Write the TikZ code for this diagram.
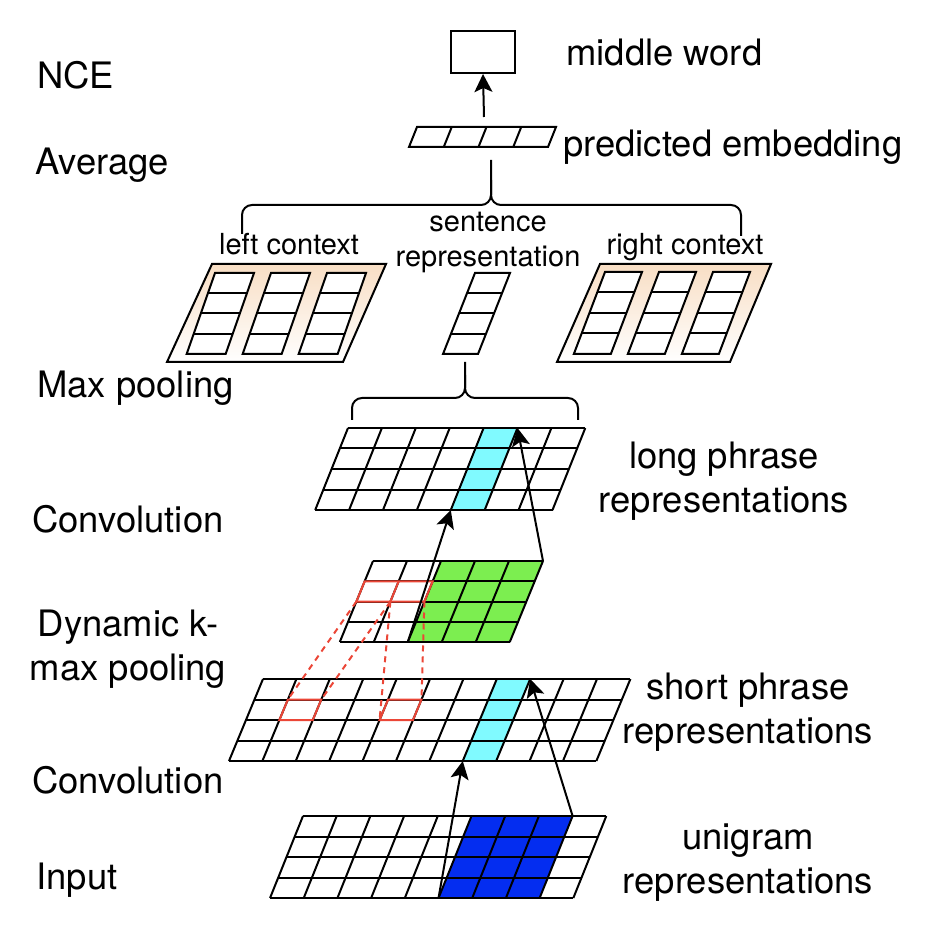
\documentclass[tikz,border=0pt]{standalone}
\usepackage{fontspec}
\setmainfont{TeX Gyre Heros}
\usetikzlibrary{arrows.meta}

\definecolor{ctxpeach}{RGB}{248,222,196}
\definecolor{inblue}{RGB}{4,45,240}
\definecolor{kgreen}{RGB}{124,238,80}
\definecolor{phcyan}{RGB}{128,250,255}
\definecolor{selred}{RGB}{235,70,55}

\tikzset{
	cell/.style={line width=1pt, line join=miter},
	lbl/.style={inner sep=0pt, font=\fontsize{18.2}{22}\selectfont},
	sml/.style={inner sep=0pt, font=\fontsize{14.5}{17.5}\selectfont},
	flow/.style={line width=1pt, -{Stealth[length=9pt,width=9pt,inset=2pt]}},
	brace/.style={line width=1pt, rounded corners=5pt},
	redcell/.style={selred, line width=1pt},
	pool/.style={selred, line width=1pt, dash pattern=on 3pt off 2.5pt}
}

\begin{document}
\begin{tikzpicture}[x=0.5pt,y=-0.5pt]
	\useasboundingbox (0,0) rectangle (938,936);
	%\draw[help lines] (0,0) grid (938,936);
	% layer names
	\node[lbl,anchor=base west] (nce) at (37,89) {NCE};
	\node[lbl,anchor=base west] (avg) at (35,175) {Average};
	\node[lbl,anchor=base west] (maxp) at (37,398) {Max pooling};
	\node[lbl,anchor=base west] (convtop) at (32,532) {Convolution};
	\node[lbl,align=center,anchor=base] (kmax) at (128,680) {Dynamic k-\\max pooling};
	\node[lbl,anchor=base west] (convlow) at (32,793) {Convolution};
	\node[lbl,anchor=base west] (inp) at (36,889) {Input};
	% right labels
	\node[lbl,anchor=base west] (mw) at (566,66) {middle word};
	\node[lbl,anchor=base west] (pe) at (563,157) {predicted embedding};
	\node[lbl,align=center,anchor=base] (lp) at (724,512) {long phrase\\representations};
	\node[lbl,align=center,anchor=base] (sp) at (748,743) {short phrase\\representations};
	\node[lbl,align=center,anchor=base] (ug) at (748,893) {unigram\\representations};
	\node[sml,anchor=base] (lc) at (289,255) {left context};
	\node[sml,anchor=base] (rc) at (685,255) {right context};
	\node[sml,align=center,anchor=base] (sr) at (488,267) {sentence\\representation};

	% middle word
	\node[draw,line width=1pt,minimum width=32pt,minimum height=21pt,inner sep=0pt] (word) at (483,52) {};
	\coordinate (pe-top) at (484,117);
	\draw[flow] (pe-top) -- (word.south);

	% predicted embedding
	\begin{scope}[shift={(417,127)},xslant=0.4]
		\foreach \i in {1,2,3} \draw[cell] (\i*34.75,0) -- (\i*34.75,20);
		\draw[cell] (0,0) rectangle (139,20);
	\end{scope}
	\draw[brace] (242,234) |- (491,205) -- (491,160);
	\draw[brace] (741,236) |- (491,205) -- (491,180);

	% left context
	\path[draw,cell,top color=ctxpeach,bottom color=white] (212,264) -- (386,264) -- (343,362) -- (167,362) -- cycle;
	\begin{scope}[shift={(215,273)},xslant=0.35]
		\foreach \k in {0,56,112} {
			\draw[cell,fill=white] (\k,0) rectangle (\k+39,81);
			\foreach \j in {1,2,3} \draw[cell] (\k,\j*20.25) -- (\k+39,\j*20.25);
		}
	\end{scope}
	% right context
	\path[draw,cell,top color=ctxpeach,bottom color=white] (600,264) -- (771,264) -- (730,362) -- (557,362) -- cycle;
	\begin{scope}[shift={(605,272)},xslant=0.38]
		\foreach \k in {0,54,108} {
			\draw[cell,fill=white] (\k,0) rectangle (\k+37,82);
			\foreach \j in {1,2,3} \draw[cell] (\k,\j*20.5) -- (\k+37,\j*20.5);
		}
	\end{scope}
	% sentence representation
	\begin{scope}[shift={(475,273)},xslant=0.395]
		\draw[cell] (0,0) rectangle (35,81);
		\foreach \j in {1,2,3} \draw[cell] (0,\j*20.25) -- (35,\j*20.25);
	\end{scope}
	\draw[brace] (352,420) |- (465,398) -- (465,362);
	\draw[brace] (578,420) |- (465,398) -- (465,375);

	% long phrase representations
	\begin{scope}[shift={(348,428)},xslant=0.4]
		\fill[phcyan] (4*33.9,0) rectangle (5*33.9,82);
		\foreach \i in {0,...,7} \draw[cell] (\i*33.9,0) -- (\i*33.9,82);
		\foreach \j in {0,...,4} \draw[cell] (0,\j*20.5) -- (7*33.9,\j*20.5);
		\coordinate (lo-a) at (4*33.9,82);
		\coordinate (lo-b) at (5*33.9,0);
	\end{scope}

	% dynamic k-max pooling
	\begin{scope}[shift={(373,561)},xslant=0.41]
		\fill[kgreen] (2*34,0) rectangle (5*34,81);
		\foreach \i in {0,...,5} \draw[cell] (\i*34,0) -- (\i*34,81);
		\foreach \j in {0,...,4} \draw[cell] (0,\j*20.25) -- (5*34,\j*20.25);
		\draw[redcell] (0,20.25) rectangle (68,40.5);
		\draw[redcell] (34,20.25) -- (34,40.5);
		\coordinate (km-a) at (2*34,81);
		\coordinate (km-b) at (5*34,0);
		\coordinate (km-r0) at (0,40.5);
		\coordinate (km-r1) at (34,40.5);
		\coordinate (km-r2) at (68,40.5);
	\end{scope}

	% short phrase representations
	\begin{scope}[shift={(263,679)},xslant=0.415]
		\fill[phcyan] (7*33.4,0) rectangle (8*33.4,82);
		\foreach \i in {0,...,11} \draw[cell] (\i*33.4,0) -- (\i*33.4,82);
		\foreach \j in {0,...,4} \draw[cell] (0,\j*20.5) -- (11*33.4,\j*20.5);
		\draw[redcell] (33.4,20.5) rectangle (66.8,41);
		\draw[redcell] (133.6,20.5) rectangle (167,41);
		\coordinate (sh-a) at (7*33.4,82);
		\coordinate (sh-b) at (8*33.4,0);
		\coordinate (sh-r0) at (33.4,20.5);
		\coordinate (sh-r1) at (66.8,20.5);
		\coordinate (sh-r2) at (133.6,41);
		\coordinate (sh-r3) at (167,20.5);
	\end{scope}

	% unigram representations
	\begin{scope}[shift={(303,816)},xslant=0.402]
		\fill[inblue] (5*33.7,0) rectangle (8*33.7,82);
		\foreach \i in {0,...,9} \draw[cell] (\i*33.7,0) -- (\i*33.7,82);
		\foreach \j in {0,...,4} \draw[cell] (0,\j*20.5) -- (9*33.7,\j*20.5);
		\coordinate (in-a) at (5*33.7,82);
		\coordinate (in-b) at (8*33.7,0);
	\end{scope}

	% pooled cells
	\draw[pool] (km-r0) -- (sh-r0);
	\draw[pool] (km-r1) -- (sh-r1);
	\draw[pool] (km-r1) -- (sh-r2);
	\draw[pool] (km-r2) -- (sh-r3);
	% filters
	\draw[flow] (in-a) -- (sh-a);
	\draw[flow] (in-b) -- (sh-b);
	\draw[flow] (km-a) -- (lo-a);
	\draw[flow] (km-b) -- (lo-b);
\end{tikzpicture}
\end{document}
